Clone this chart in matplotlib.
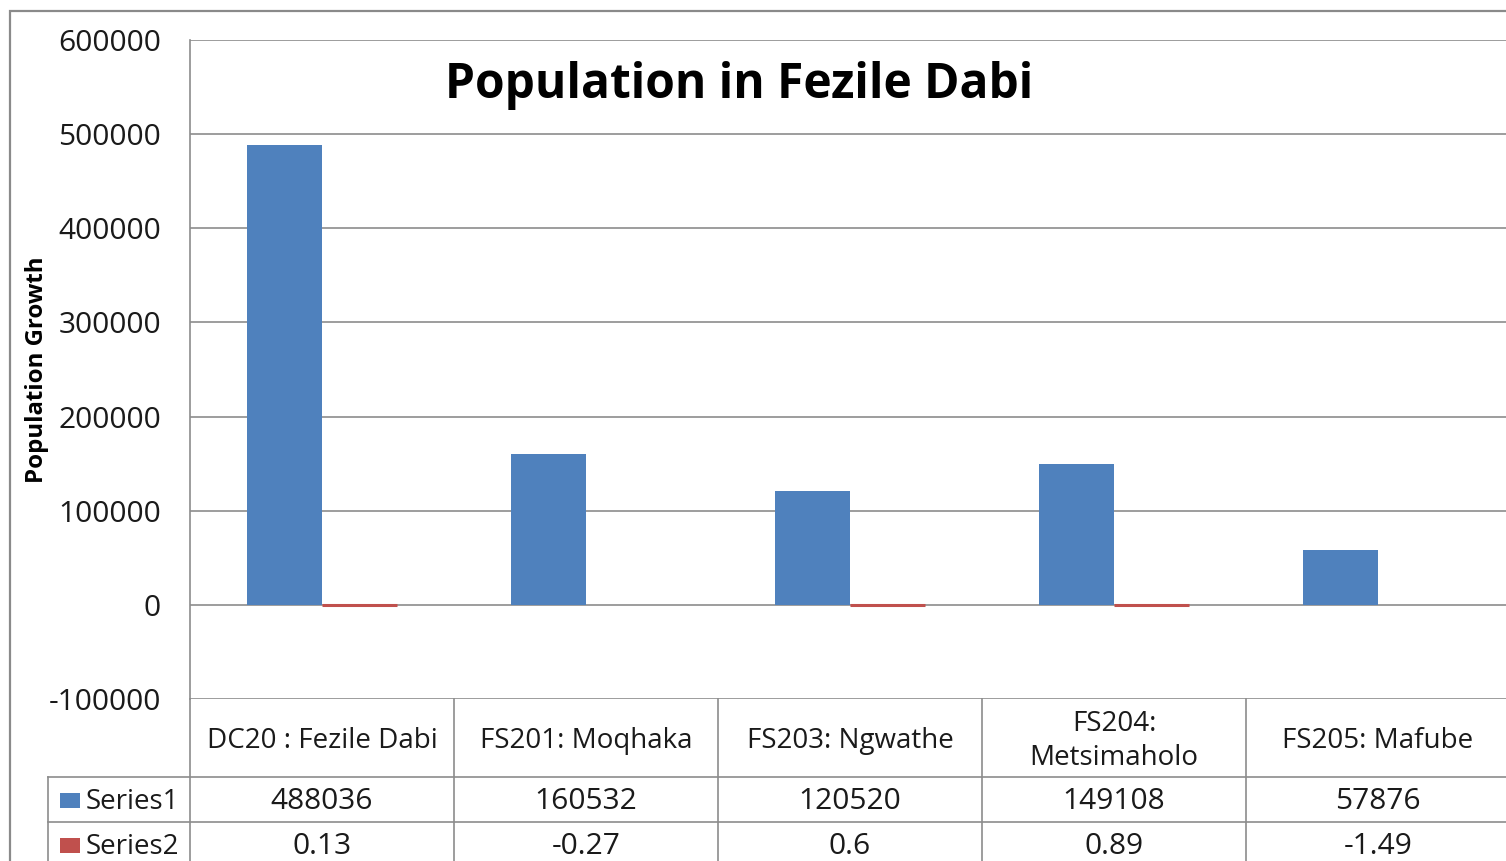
import matplotlib.pyplot as plt
from matplotlib.transforms import blended_transform_factory
from matplotlib.patches import Rectangle

# data
categories = ['DC20 : Fezile Dabi', 'FS201: Moqhaka', 'FS203: Ngwathe',
              'FS204:\nMetsimaholo', 'FS205: Mafube']
series1 = [488036, 160532, 120520, 149108, 57876]
series2 = [0.13, -0.27, 0.6, 0.89, -1.49]
series_names = ['Series1', 'Series2']
yticks = [-100000, 0, 100000, 200000, 300000, 400000, 500000, 600000]

blue = '#4f81bd'
red = '#c0504d'
grey = '#8c8c8c'
txt = '#1a1a1a'

plt.rcParams['font.family'] = ['Open Sans', 'DejaVu Sans']

W, H = 1506, 861
fig = plt.figure(figsize=(W / 100, H / 100), dpi=100)

# outer chart border
fig.add_artist(Rectangle((10 / W, -0.1), 1.2, 1 - 11 / H + 0.1, transform=fig.transFigure,
                         fill=False, edgecolor='#8a8a8a', linewidth=1.6))

ax = fig.add_axes([190 / W, 1 - 699 / H, 1320 / W, 659 / H])
x = list(range(len(categories)))
bw = 0.284
ax.bar([i - bw / 2 for i in x], series1, width=bw, color=blue, zorder=2)
ax.bar([i + bw / 2 for i in x], series2, width=bw, color=red,
       edgecolor=red, linewidth=[2.2 if v > 0 else 0 for v in series2], zorder=2)

ax.set_xlim(-0.5, len(categories) - 0.5)
ax.set_ylim(-100000, 600000)
ax.set_yticks(yticks)
ax.set_yticklabels([str(t) for t in yticks], fontsize=21.5, color=txt)
ax.tick_params(axis='y', length=0, pad=21)
ax.set_xticks([])
ax.yaxis.grid(True, color=grey, linewidth=1.2, zorder=1)
ax.set_axisbelow(True)
for s in ['top', 'right', 'bottom']:
    ax.spines[s].set_visible(False)
ax.spines['left'].set_color(grey)
ax.spines['left'].set_linewidth(1.2)

fig.text(739 / W, 1 - 85 / H, 'Population in Fezile Dabi', ha='center', va='center',
         fontsize=34.5, fontweight='bold')
fig.text(37 / W, 1 - 370 / H, 'Population Growth', rotation=90, ha='center', va='center',
         fontsize=17.3, fontweight='bold')

# data table below the axis
tr = blended_transform_factory(ax.transData, ax.transAxes)
ftr = blended_transform_factory(fig.transFigure, ax.transAxes)
ph = 659.0
r1, r2, r3 = -78 / ph, -123 / ph, -170 / ph
xl = (48 - 190) / 264.0 - 0.5
xr = len(categories) - 0.5 + 0.2
lk = dict(color=grey, linewidth=1.2, transform=tr, clip_on=False)
ax.plot([xl, xr], [r1, r1], **lk)
ax.plot([xl, xr], [r2, r2], **lk)
ax.plot([xl, xl], [r1, r3], **lk)
ax.plot([-0.5, -0.5], [0, r3], **lk)
for i in x:
    ax.plot([i + 0.5, i + 0.5], [0, r3], **lk)


def py(pix):
    # pixel row of the picture -> axes fraction
    return (699 - pix) / ph


for i, c in enumerate(categories):
    if '\n' in c:
        a, b = c.split('\n')
        ax.text(i, py(731), a, transform=tr, ha='center', va='baseline', fontsize=20, color=txt)
        ax.text(i, py(765), b, transform=tr, ha='center', va='baseline', fontsize=20, color=txt)
    else:
        ax.text(i, py(748), c, transform=tr, ha='center', va='baseline', fontsize=20, color=txt)
    ax.text(i, py(809), str(series1[i]), transform=tr, ha='center', va='baseline',
            fontsize=21.5, color=txt)
    ax.text(i, py(854), str(series2[i]), transform=tr, ha='center', va='baseline',
            fontsize=21.5, color=txt)

for name, col, base in zip(series_names, [blue, red], [809, 854]):
    ax.add_artist(Rectangle((60 / W, py(base - 1)), 20 / W, 15 / ph, transform=ftr,
                            facecolor=col, edgecolor='none', clip_on=False))
    ax.text(86 / W, py(base), name, fontsize=20, ha='left', va='baseline', color=txt,
            transform=ftr)

fig.savefig('out.png', dpi=100)
